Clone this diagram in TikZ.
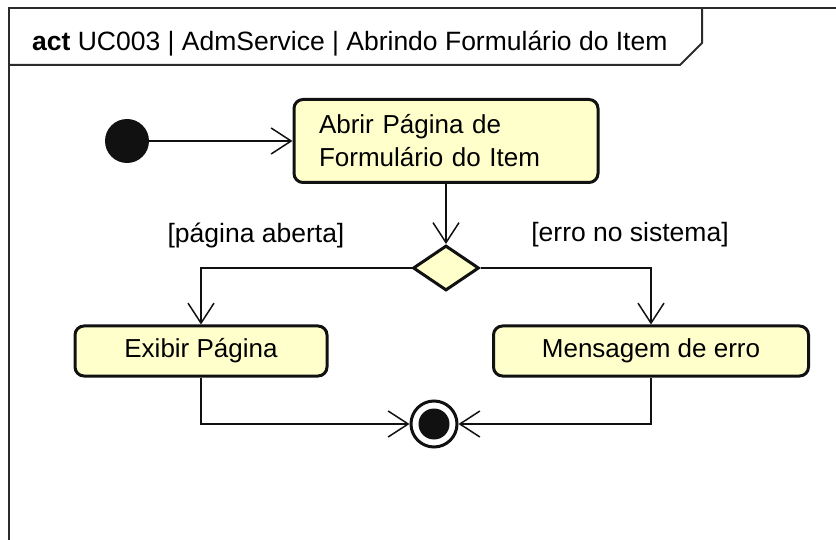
\documentclass[tikz,border=0pt]{standalone}
\usepackage{fontspec}
\setmainfont{Liberation Sans}
\usepackage{tikz}
\usetikzlibrary{arrows.meta,positioning,shapes.geometric}
\definecolor{actfill}{HTML}{FFFFCC}
\definecolor{ink}{HTML}{111111}
\definecolor{framebd}{HTML}{2B2B2B}
\tikzset{
  action/.style={draw=ink,fill=actfill,rounded corners=9pt,
                 line width=3pt,inner sep=0pt,
                 font=\fontsize{26}{33}\selectfont},
  decision/.style={diamond,draw=ink,fill=actfill,line width=3pt,
                   minimum width=66pt,minimum height=45pt,inner sep=0pt},
  initstate/.style={circle,fill=ink,minimum size=44pt,inner sep=0pt},
  finalstate/.style={circle,draw=ink,line width=3pt,fill=white,
                     minimum size=46pt,inner sep=0pt,
                     path picture={\fill[ink] (path picture bounding box.center)
                                   circle (15.5pt);}},
  guard/.style={font=\fontsize{26.5}{30}\selectfont,inner sep=0pt},
  flow/.style={-{Straight Barb[length=20pt,width=26pt,line width=1.5pt]},
               line width=1.5pt,ink},
  framebox/.style={line width=2pt,framebd},
}

\begin{document}
\begin{tikzpicture}[x=1pt,y=-1pt]
  \useasboundingbox (0,0) rectangle (836,540);
  % frame and its title tab
  \draw[framebox] (9,540) -- (9,8) -- (836,8);
  \draw[framebox] (9,65) -- (680,65) -- (702,43) -- (702,8);
  \node[anchor=base west,font=\fontsize{26.5}{30}\selectfont,inner sep=0pt]
    (title) at (32,51) {\textbf{act} UC003 | AdmService | Abrindo Formulário do Item};
  % states and actions
  \node[initstate] (start) at (127,141) {};
  \node[action,minimum width=304pt,minimum height=83pt,
        text width=254pt,align=left]
    (abrir) at (446,141) {Abrir Página de\\Formulário do Item};
  \node[decision] (dec) at (446,268) {};
  \node[action,minimum width=252pt,minimum height=50pt]
    (exibir) at (201,351) {Exibir Página};
  \node[action,minimum width=315pt,minimum height=50pt]
    (msgerro) at (651,351) {Mensagem de erro};
  \node[finalstate] (fim) at (434,424) {};
  % guards
  \node[guard] (gok) at (256,235) {[página aberta]};
  \node[guard] (gerr) at (630,235) {[erro no sistema]};
  % flows
  \draw[flow] (start) -- (abrir);
  \draw[flow] (abrir) -- (dec);
  \draw[flow] (dec.west) -| (exibir.north);
  \draw[flow] (dec.east) -| (msgerro.north);
  \draw[flow] (exibir.south) |- (fim);
  \draw[flow] (msgerro.south) |- (fim);
\end{tikzpicture}
\end{document}
